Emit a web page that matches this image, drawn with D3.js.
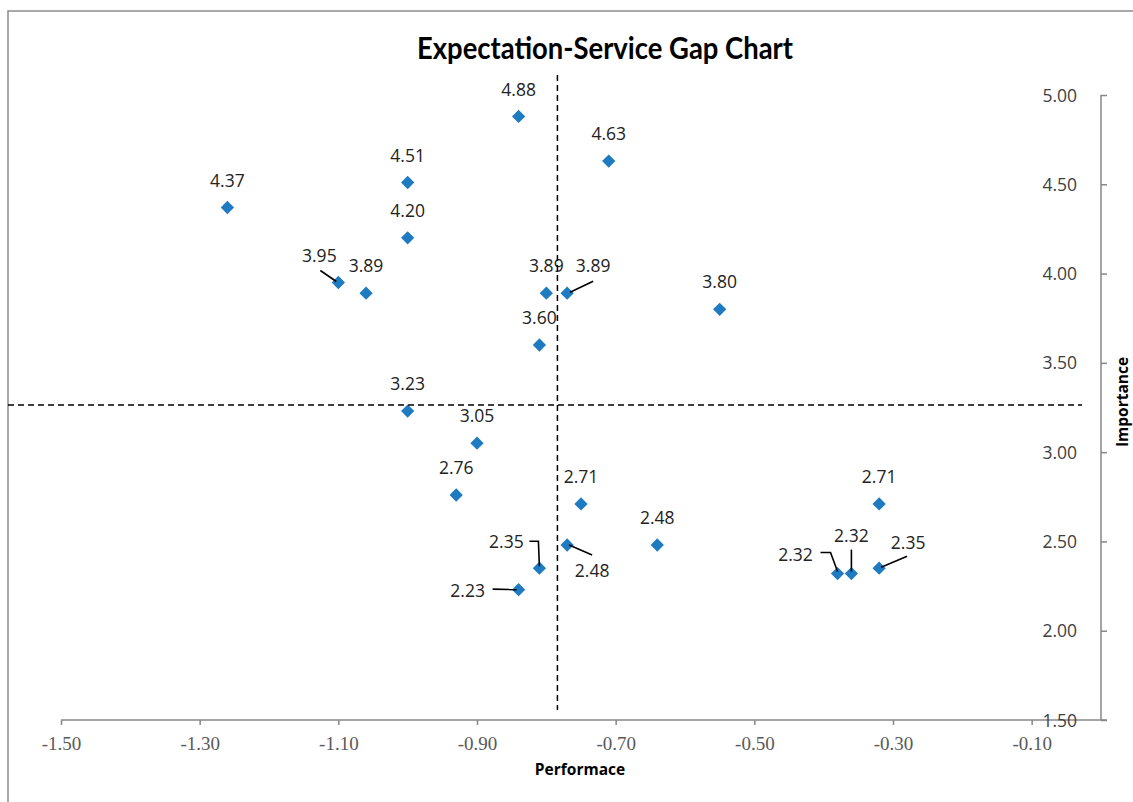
<!DOCTYPE html>
<html>
<head>
<meta charset="utf-8">
<script src="https://cdn.jsdelivr.net/npm/d3@7"></script>
<style>
  body { margin: 0; background: #fff; }
  svg { display: block; }
</style>
</head>
<body>
<div id="chart"></div>
<script>
// Gap values (performance - expectation) and importance ratings per item
const performance = [-1.26, -1.00, -1.00, -1.10, -1.06, -0.84, -0.71, -0.80, -0.77, -0.81, -1.00, -0.90,
  -0.93, -0.75, -0.64, -0.77, -0.81, -0.84, -0.55, -0.32, -0.38, -0.36, -0.32];
const importance = [4.37, 4.51, 4.20, 3.95, 3.89, 4.88, 4.63, 3.89, 3.89, 3.60, 3.23, 3.05,
  2.76, 2.71, 2.48, 2.48, 2.35, 2.23, 3.80, 2.71, 2.32, 2.32, 2.35];
const xTicks = [-1.5, -1.3, -1.1, -0.9, -0.7, -0.5, -0.3, -0.1];
const yTicks = [1.5, 2.0, 2.5, 3.0, 3.5, 4.0, 4.5, 5.0];
const meanPerformance = -0.784;
const meanImportance = 3.264;

// label placement tweaks (px offsets from the point), with leader lines
const labelNudge = {
  3:  { dx: -19, dy: -27, leader: [[-18, -12], [-2, -1]] },
  8:  { dx: 26,  dy: -27, leader: [[26, -12], [3, -1]] },
  15: { dx: 25,  dy: 26,  leader: [[25, 10], [2, 0]] },
  16: { dx: -33, dy: -26, leader: [[-10, -27], [-1, -27], [0, -2]] },
  17: { dx: -51, dy: 1,   leader: [[-26, -0.5], [-2, 0]] },
  20: { dx: -42, dy: -19, leader: [[-17, -21], [-7, -21], [0, -2]] },
  21: { dx: 0,   dy: -38, leader: [[0, -24], [0, -2]] },
  22: { dx: 29,  dy: -25, leader: [[28, -12], [2, -1]] }
};

const W = 1133, H = 802;
const svg = d3.select('#chart').append('svg')
  .attr('width', W)
  .attr('height', H);

// chart area border
svg.append('rect')
  .attr('x', 8).attr('y', 11)
  .attr('width', W + 20).attr('height', H + 20)
  .attr('fill', 'none')
  .attr('stroke', '#8c8c8c')
  .attr('stroke-width', 1.5);

const x = d3.scaleLinear().domain([-1.5, 0]).range([61, 1101]);
const y = d3.scaleLinear().domain([1.5, 5]).range([720, 95]);
const fmt = d => d.toFixed(2); // plain hyphen, like the original

// title
svg.append('text')
  .attr('x', 605).attr('y', 59)
  .attr('text-anchor', 'middle')
  .attr('font-family', 'Lato, "Open Sans", sans-serif')
  .attr('font-weight', 'bold')
  .attr('font-size', 31)
  .attr('textLength', 376)
  .attr('lengthAdjust', 'spacingAndGlyphs')
  .attr('fill', '#000')
  .text('Expectation-Service Gap Chart');

// X axis (crosses at importance 1.5)
const xAxis = svg.append('g')
  .attr('transform', `translate(0,${y(1.5)})`)
  .call(d3.axisBottom(x).tickValues(xTicks).tickSize(5).tickFormat(fmt));
xAxis.select('.domain')
  .attr('d', `M${x(-1.5)},0H${x(0) + 6}`)
  .attr('stroke', '#878787').attr('stroke-width', 1.5);
xAxis.selectAll('.tick line').attr('stroke', '#878787').attr('stroke-width', 1.5);
xAxis.selectAll('.tick text')
  .attr('y', 23)
  .attr('dy', '0.35em')
  .attr('font-family', '"Liberation Serif", "Times New Roman", serif')
  .attr('font-size', 19)
  .attr('fill', '#595959');

// Y axis on the right (crosses at performance 0)
const yAxis = svg.append('g')
  .attr('transform', `translate(${x(0)},0)`)
  .call(d3.axisRight(y).tickValues(yTicks).tickSize(6).tickFormat(fmt));
yAxis.select('.domain')
  .attr('d', `M0,${y(5)}V${y(1.5)}`)
  .attr('stroke', '#878787').attr('stroke-width', 1.5);
yAxis.selectAll('.tick line').attr('stroke', '#878787').attr('stroke-width', 1.5);
yAxis.selectAll('.tick text')
  .attr('x', -24)
  .attr('text-anchor', 'end')
  .attr('dy', '0.35em')
  .attr('font-family', '"Open Sans", sans-serif')
  .attr('font-size', 17.5)
  .attr('fill', '#404040');

// axis titles
svg.append('text')
  .attr('x', 580).attr('y', 770)
  .attr('dy', '0.35em')
  .attr('text-anchor', 'middle')
  .attr('font-family', '"Open Sans", sans-serif')
  .attr('font-weight', 'bold')
  .attr('font-size', 15.5)
  .attr('fill', '#000')
  .text('Performace');

svg.append('text')
  .attr('transform', 'translate(1123,402) rotate(-90)')
  .attr('dy', '0.35em')
  .attr('text-anchor', 'middle')
  .attr('font-family', '"Open Sans", sans-serif')
  .attr('font-weight', 'bold')
  .attr('font-size', 15.5)
  .attr('fill', '#000')
  .text('Importance');

const points = performance.map((p, i) => ({ i, p, v: importance[i] }));

// markers
svg.selectAll('.pt')
  .data(points)
  .enter()
  .append('path')
    .attr('class', 'pt')
    .attr('d', d3.symbol(d3.symbolSquare, 88))
    .attr('transform', d => `translate(${x(d.p)},${y(d.v)}) rotate(45)`)
    .attr('fill', '#1f7bc1');

// leader lines
const line = d3.line();
svg.selectAll('.leader')
  .data(points.filter(d => labelNudge[d.i]))
  .enter()
  .append('path')
    .attr('class', 'leader')
    .attr('d', d => line(labelNudge[d.i].leader.map(([a, b]) => [x(d.p) + a, y(d.v) + b])))
    .attr('fill', 'none')
    .attr('stroke', '#000')
    .attr('stroke-width', 1.6);

// data labels
svg.selectAll('.lbl')
  .data(points)
  .enter()
  .append('text')
    .attr('class', 'lbl')
    .attr('x', d => x(d.p) + (labelNudge[d.i] ? labelNudge[d.i].dx : 0))
    .attr('y', d => y(d.v) + (labelNudge[d.i] ? labelNudge[d.i].dy : -27))
    .attr('dy', '0.35em')
    .attr('text-anchor', 'middle')
    .attr('font-family', '"Open Sans", sans-serif')
    .attr('font-size', 17.5)
    .attr('fill', '#222')
    .text(d => d.v.toFixed(2));

// quadrant lines at the means
svg.append('line')
  .attr('x1', 8).attr('x2', 1082)
  .attr('y1', y(meanImportance)).attr('y2', y(meanImportance))
  .attr('stroke', '#000').attr('stroke-width', 1.5)
  .attr('stroke-dasharray', '6,4');

svg.append('line')
  .attr('x1', x(meanPerformance)).attr('x2', x(meanPerformance))
  .attr('y1', 75).attr('y2', 710)
  .attr('stroke', '#000').attr('stroke-width', 1.5)
  .attr('stroke-dasharray', '6,4');
</script>
</body>
</html>
